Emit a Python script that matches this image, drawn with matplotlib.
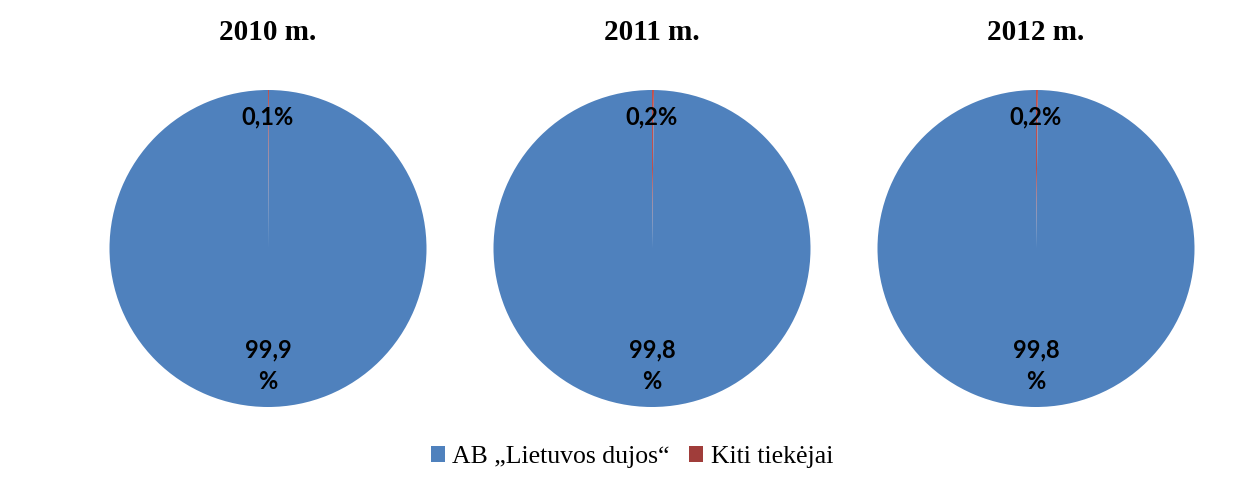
import matplotlib.pyplot as plt
from matplotlib.patches import Patch

# ---------------- Data ---------------- #
years = ['2010 m.', '2011 m.', '2012 m.']
suppliers = ['AB \u201eLietuvos dujos\u201c', 'Kiti tiekėjai']
lietuvos_dujos = [99.9, 99.8, 99.8]
kiti = [0.1, 0.2, 0.2]

colors = ['#4F81BD', '#A03D3A']

W, H = 1249, 482
fig = plt.figure(figsize=(W / 100, H / 100), dpi=100)

centers_x = [268, 652, 1036]
center_y = 248.5
radius = 158.5


def fmt(v):
    return ('%.1f' % v).replace('.', ',')


for i, year in enumerate(years):
    cx = centers_x[i]
    ax = fig.add_axes([(cx - radius) / W, (H - center_y - radius) / H,
                       2 * radius / W, 2 * radius / H])
    vals = [kiti[i], lietuvos_dujos[i]]
    wedges, _ = ax.pie(vals, colors=['#C0504D', colors[0]], startangle=90,
                       counterclock=False, radius=1,
                       wedgeprops=dict(linewidth=0))
    ax.set_xlim(-1, 1)
    ax.set_ylim(-1, 1)
    ax.set_aspect('equal')
    ax.axis('off')
    # labels
    ax.text(0, 0.83, fmt(kiti[i]) + '%', ha='center', va='center',
            fontsize=17, fontweight='bold', family='Lato')
    ax.text(0, -0.74, fmt(lietuvos_dujos[i]) + '\n%', ha='center', va='center',
            fontsize=17, fontweight='bold', family='Lato', linespacing=1.45)
    fig.text(cx / W, 1 - 33 / H, year, ha='center', va='center',
             fontsize=21, fontweight='bold', family='Liberation Serif')

handles = [Patch(facecolor=colors[0], edgecolor='none', label=suppliers[0]),
           Patch(facecolor=colors[1], edgecolor='none', label=suppliers[1])]
fig.legend(handles=handles, loc='center', bbox_to_anchor=(632 / W, 1 - 457 / H),
           ncol=2, frameon=False, handlelength=0.55, handleheight=0.55,
           handletextpad=0.3, columnspacing=0.75,
           prop={'family': 'Liberation Serif', 'size': 18.5})

fig.savefig('out.png', dpi=100)
